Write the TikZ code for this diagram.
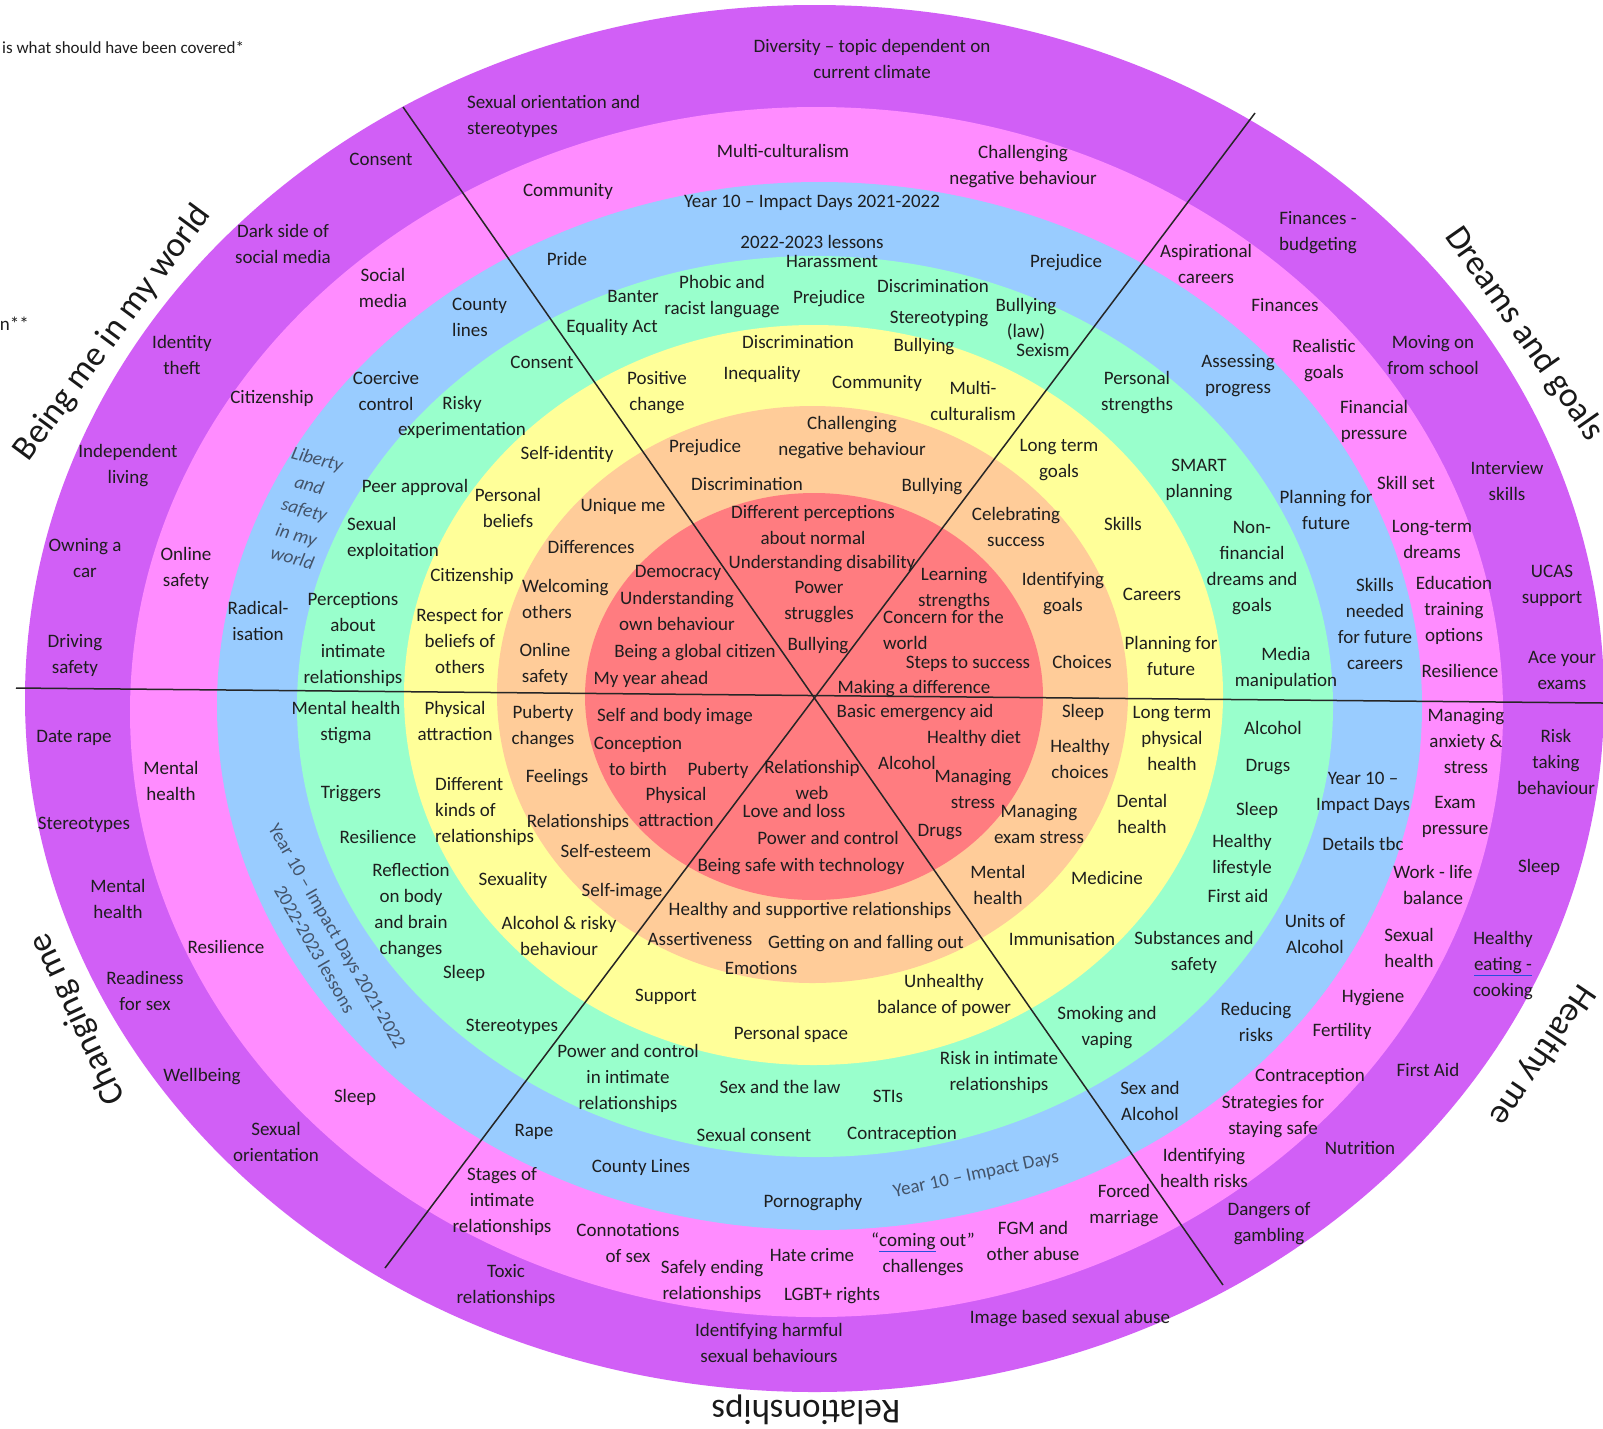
\documentclass[tikz,border=0pt]{standalone}
\usepackage{fontspec}
\setmainfont{Carlito}
\definecolor{bpurple}{RGB}{209,95,246}
\definecolor{bpink}{RGB}{255,140,255}
\definecolor{bblue}{RGB}{153,204,255}
\definecolor{bmint}{RGB}{153,255,204}
\definecolor{byellow}{RGB}{255,255,153}
\definecolor{bpeach}{RGB}{255,204,153}
\definecolor{bred}{RGB}{255,124,128}
\definecolor{txt}{RGB}{30,30,30}
\definecolor{txtblue}{RGB}{68,84,106}
\definecolor{ulblue}{RGB}{40,80,220}
\newcommand{\myul}[1]{{\color{ulblue}\underline{\textcolor{txt}{#1}}}}
\newcommand{\mystrut}{\rule[-4.5pt]{0pt}{19pt}}
\begin{document}
\begin{tikzpicture}[x=1pt,y=-1pt,
  lbl/.style={font=\fontsize{19}{26}\selectfont, align=center, inner sep=0pt, text=txt,
    execute at begin node=\mystrut, execute at end node=\mystrut},
  biglbl/.style={font=\fontsize{35}{40}\selectfont, inner sep=0pt, text=black!90},
  divline/.style={line width=1.5pt, draw=black!85},
  bluetxt/.style={text=txtblue}]
\fill[white] (0,0) rectangle (1603,1428);
\useasboundingbox (0,0) rectangle (1603,1428);
% rings
\fill[bpurple] (814.5,698.5) ellipse [x radius=789.5pt, y radius=693.5pt];
\fill[bpink]   (816.5,712)   ellipse [x radius=686.5pt, y radius=605pt];
\fill[bblue]   (819.5,706)   ellipse [x radius=602.5pt, y radius=524pt];
\fill[bmint]   (815,706.5)   ellipse [x radius=518pt,   y radius=450.5pt];
\fill[byellow] (813.5,695)   ellipse [x radius=409.5pt, y radius=370pt];
\fill[bpeach]  (812.5,694.5) ellipse [x radius=315.5pt, y radius=288.5pt];
\fill[bred]    (814,696.5)   ellipse [x radius=229pt,   y radius=203.5pt];
% dividing lines
\coordinate (hL) at (16,688);
\coordinate (hR) at (1603,703);
\coordinate (aT) at (403,107);
\coordinate (aB) at (1223,1285);
\coordinate (bT) at (1255,113);
\coordinate (bB) at (385,1268);
\draw[divline] (hL) -- (hR);
\draw[divline] (aT) -- (aB);
\draw[divline] (bT) -- (bB);
% notes
\node[lbl, font=\fontsize{17}{20}\selectfont, anchor=west] (note1) at (2,48) {is what should have been covered*};
\node[lbl, anchor=east] (note2) at (29,325) {n**};
% big labels
\node[biglbl, rotate=53.5] (bigA) at (113,333) {Being me in my world};
\node[biglbl, rotate=-55] (bigB) at (1524,334) {Dreams and goals};
\node[biglbl, rotate=115] (bigC) at (78,1019) {Changing me};
\node[biglbl, rotate=-124] (bigD) at (1542,1055) {Healthy me};
\node[biglbl, rotate=180] (bigE) at (806,1410) {Relationships};
% purple band
\node[lbl] (pu1) at (872,61) {Diversity -- topic dependent on\\current climate};
\node[lbl, align=left, anchor=west] (pu2) at (467,117.5) {Sexual orientation and\\stereotypes};
\node[lbl] (pu3) at (381,160) {Consent};
\node[lbl] (pu4) at (283,246.5) {Dark side of\\social media};
\node[lbl] (pu5) at (182,357.5) {Identity\\theft};
\node[lbl] (pu6) at (128,466) {Independent\\living};
\node[lbl] (pu7) at (85,560.5) {Owning a\\car};
\node[lbl] (pu8) at (75,656.5) {Driving\\safety};
\node[lbl] (pu9) at (74,737) {Date rape};
\node[lbl] (pu10) at (84,824) {Stereotypes};
\node[lbl] (pu11) at (118,901) {Mental\\health};
\node[lbl] (pu12) at (145,993) {Readiness\\for sex};
\node[lbl] (pu13) at (202,1076) {Wellbeing};
\node[lbl] (pu14) at (276,1144) {Sexual\\orientation};
\node[lbl] (pu15) at (506,1286) {Toxic\\relationships};
\node[lbl] (pu16) at (769,1345) {Identifying harmful\\sexual behaviours};
\node[lbl] (pu17) at (1070,1318) {Image based sexual abuse};
\node[lbl] (pu18) at (1269,1224) {Dangers of\\gambling};
\node[lbl] (pu19) at (1360,1149) {Nutrition};
\node[lbl] (pu20) at (1428,1071) {First Aid};
\node[lbl] (pu21) at (1503,966) {Healthy\\\myul{eating -}\\cooking};
\node[lbl] (pu22) at (1539,867) {Sleep};
\node[lbl] (pu23) at (1556,764) {Risk\\taking\\behaviour};
\node[lbl] (pu24) at (1562,672.5) {Ace your\\exams};
\node[lbl] (pu25) at (1552,586.5) {UCAS\\support};
\node[lbl] (pu26) at (1507,483.5) {Interview\\skills};
\node[lbl] (pu27) at (1433,357) {Moving on\\from school};
\node[lbl] (pu28) at (1318,233.5) {Finances -\\budgeting};
% pink band
\node[lbl] (pk1) at (783,152) {Multi-culturalism};
\node[lbl] (pk2) at (1023,167.5) {Challenging\\negative behaviour};
\node[lbl] (pk3) at (568,191) {Community};
\node[lbl] (pk4) at (383,290.5) {Social\\media};
\node[lbl] (pk5) at (272,398) {Citizenship};
\node[lbl] (pk6) at (186,569.5) {Online\\safety};
\node[lbl] (pk7) at (171,783) {Mental\\health};
\node[lbl] (pk8) at (226,948) {Resilience};
\node[lbl] (pk9) at (355,1097) {Sleep};
\node[lbl] (pk10) at (502,1202) {Stages of\\intimate\\relationships};
\node[lbl] (pk11) at (628,1245) {Connotations\\of sex};
\node[lbl] (pk12) at (712,1282) {Safely ending\\relationships};
\node[lbl] (pk13) at (812,1256) {Hate crime};
\node[lbl] (pk14) at (832,1295) {LGBT+ rights};
\node[lbl] (pk15) at (923,1254.5) {“\myul{coming} out”\\challenges};
\node[lbl] (pk16) at (1033,1243.5) {FGM and\\other abuse};
\node[lbl] (pk17) at (1124,1206.5) {Forced\\marriage};
\node[lbl] (pk18) at (1204,1170) {Identifying\\health risks};
\node[lbl] (pk19) at (1273,1117.5) {Strategies for\\staying safe};
\node[lbl] (pk20) at (1310,1076) {Contraception};
\node[lbl] (pk21) at (1342,1031) {Fertility};
\node[lbl] (pk22) at (1373,997) {Hygiene};
\node[lbl] (pk23) at (1409,950.5) {Sexual\\health};
\node[lbl] (pk24) at (1433,887.5) {Work - life\\balance};
\node[lbl] (pk25) at (1455,817.5) {Exam\\pressure};
\node[lbl] (pk26) at (1466,743) {Managing\\anxiety \&\\stress};
\node[lbl] (pk27) at (1460,672) {Resilience};
\node[lbl] (pk28) at (1454,611.5) {Education\\training\\options};
\node[lbl] (pk29) at (1432,541.5) {Long-term\\dreams};
\node[lbl] (pk30) at (1406,484) {Skill set};
\node[lbl] (pk31) at (1374,422) {Financial\\pressure};
\node[lbl] (pk32) at (1324,361) {Realistic\\goals};
\node[lbl] (pk33) at (1285,306) {Finances};
\node[lbl] (pk34) at (1206,266.5) {Aspirational\\careers};
% blue band
\node[lbl] (bl1) at (812,202) {Year 10 -- Impact Days 2021-2022};
\node[lbl] (bl2) at (812,243) {2022-2023 lessons};
\node[lbl] (bl3) at (567,260) {Pride};
\node[lbl] (bl4) at (1066,262) {Prejudice};
\node[lbl, align=left, anchor=west] (bl5) at (452,320) {County\\lines};
\node[lbl] (bl6) at (386,393.5) {Coercive\\control};
\node[lbl, bluetxt, font=\fontsize{19}{26}\selectfont\itshape, rotate=-15] (bl7a) at (317,460) {Liberty};
\node[lbl, bluetxt, font=\fontsize{19}{26}\selectfont\itshape, rotate=-15] (bl7b) at (309,486) {and};
\node[lbl, bluetxt, font=\fontsize{19}{26}\selectfont\itshape, rotate=-15] (bl7c) at (304,511) {safety};
\node[lbl, bluetxt, font=\fontsize{19}{26}\selectfont\itshape, rotate=-15] (bl7d) at (296,536) {in my};
\node[lbl, bluetxt, font=\fontsize{19}{26}\selectfont\itshape, rotate=-15] (bl7e) at (292,559) {world};
\node[lbl] (bl8) at (258,623.5) {Radical-\\isation};
\node[lbl, bluetxt, rotate=-60] (bl9) at (324,944) {Year 10 -- Impact Days 2021-2022\\2022-2023 lessons};
\node[lbl] (bl10) at (534,1131) {Rape};
\node[lbl] (bl11) at (641,1167) {County Lines};
\node[lbl] (bl12) at (813,1202) {Pornography};
\node[lbl, bluetxt, rotate=12] (bl13) at (976,1175) {Year 10 -- Impact Days};
\node[lbl] (bl14) at (1150,1103) {Sex and\\Alcohol};
\node[lbl] (bl15) at (1256,1024) {Reducing\\risks};
\node[lbl] (bl16) at (1315,936.5) {Units of\\Alcohol};
\node[lbl] (bl17) at (1363,845) {Details tbc};
\node[lbl] (bl18) at (1363,794) {Year 10 --\\Impact Days};
\node[lbl] (bl19) at (1375,626) {Skills\\needed\\for future\\careers};
\node[lbl] (bl20) at (1326,512.5) {Planning for\\future};
\node[lbl] (bl21) at (1238,376.5) {Assessing\\progress};
% mint band
\node[lbl] (mi1) at (832,262) {Harassment};
\node[lbl] (mi2) at (633,297) {Banter};
\node[lbl] (mi3) at (722,297.5) {Phobic and\\racist language};
\node[lbl] (mi4) at (829,298) {Prejudice};
\node[lbl] (mi5) at (933,287) {Discrimination};
\node[lbl] (mi6) at (939,318) {Stereotyping};
\node[lbl] (mi7) at (1026,320) {Bullying\\(law)};
\node[lbl] (mi8) at (1043,351) {Sexism};
\node[lbl] (mi9) at (612,327) {Equality Act};
\node[lbl] (mi10) at (542,363) {Consent};
\node[lbl] (mi11) at (462,418) {Risky\\experimentation};
\node[lbl] (mi12) at (1137,393.5) {Personal\\strengths};
\node[lbl] (mi13) at (1199,480.5) {SMART\\planning};
\node[lbl] (mi14) at (415,487) {Peer approval};
\node[lbl, align=left, anchor=west] (mi15) at (347,539) {Sexual\\exploitation};
\node[lbl] (mi16) at (1252,568.5) {Non-\\financial\\dreams and\\goals};
\node[lbl] (mi17) at (353,640.5) {Perceptions\\about\\intimate\\relationships};
\node[lbl] (mi18) at (1286,669) {Media\\manipulation};
\node[lbl] (mi19) at (346,723.5) {Mental health\\stigma};
\node[lbl] (mi20) at (1273,729) {Alcohol};
\node[lbl] (mi21) at (1268,766) {Drugs};
\node[lbl] (mi22) at (351,793) {Triggers};
\node[lbl] (mi23) at (1257,810) {Sleep};
\node[lbl] (mi24) at (378,838) {Resilience};
\node[lbl] (mi25) at (1242,856) {Healthy\\lifestyle};
\node[lbl] (mi26) at (1238,897) {First aid};
\node[lbl] (mi27) at (411,911) {Reflection\\on body\\and brain\\changes};
\node[lbl] (mi28) at (1194,953.5) {Substances and\\safety};
\node[lbl] (mi29) at (464,973) {Sleep};
\node[lbl] (mi30) at (512,1026) {Stereotypes};
\node[lbl] (mi31) at (1107,1028.5) {Smoking and\\vaping};
\node[lbl] (mi32) at (628,1079) {Power and control\\in intimate\\relationships};
\node[lbl] (mi33) at (999,1073.5) {Risk in intimate\\relationships};
\node[lbl] (mi34) at (780,1088) {Sex and the law};
\node[lbl] (mi35) at (888,1097) {STIs};
\node[lbl] (mi36) at (754,1136) {Sexual consent};
\node[lbl] (mi37) at (902,1134) {Contraception};
% yellow band
\node[lbl] (ye1) at (798,343) {Discrimination};
\node[lbl] (ye2) at (657,393.5) {Positive\\change};
\node[lbl] (ye3) at (762,374) {Inequality};
\node[lbl] (ye4) at (924,346) {Bullying};
\node[lbl] (ye5) at (877,383) {Community};
\node[lbl] (ye6) at (973,403) {Multi-\\culturalism};
\node[lbl] (ye7) at (567,454) {Self-identity};
\node[lbl] (ye8) at (1059,460.5) {Long term\\goals};
\node[lbl] (ye9) at (508,510) {Personal\\beliefs};
\node[lbl] (ye10) at (1123,525) {Skills};
\node[lbl] (ye11) at (472,576) {Citizenship};
\node[lbl] (ye12) at (1152,595) {Careers};
\node[lbl] (ye13) at (460,643) {Respect for\\beliefs of\\others};
\node[lbl] (ye14) at (1171,658.5) {Planning for\\future};
\node[lbl] (ye15) at (455,723.5) {Physical\\attraction};
\node[lbl] (ye16) at (1172,741) {Long term\\physical\\health};
\node[lbl, align=left, anchor=west] (ye17) at (435,812.5) {Different\\kinds of\\relationships};
\node[lbl] (ye18) at (1142,816) {Dental\\health};
\node[lbl] (ye19) at (513,880) {Sexuality};
\node[lbl] (ye20) at (1107,879) {Medicine};
\node[lbl] (ye21) at (559,938.5) {Alcohol \& risky\\behaviour};
\node[lbl] (ye22) at (1062,940) {Immunisation};
\node[lbl] (ye23) at (666,996) {Support};
\node[lbl] (ye24) at (944,996.5) {Unhealthy\\balance of power};
\node[lbl] (ye25) at (791,1034) {Personal space};
% peach band
\node[lbl] (pe1) at (852,438) {Challenging\\negative behaviour};
\node[lbl] (pe2) at (705,447) {Prejudice};
\node[lbl] (pe3) at (747,485) {Discrimination};
\node[lbl] (pe4) at (932,486) {Bullying};
\node[lbl] (pe5) at (623,506) {Unique me};
\node[lbl] (pe6) at (1016,529.5) {Celebrating\\success};
\node[lbl] (pe7) at (591,548) {Differences};
\node[lbl, align=left, anchor=west] (pe8) at (522,601) {Welcoming\\others};
\node[lbl] (pe9) at (1063,594) {Identifying\\goals};
\node[lbl] (pe10) at (545,665.5) {Online\\safety};
\node[lbl] (pe11) at (1082,663) {Choices};
\node[lbl] (pe12) at (543,727) {Puberty\\changes};
\node[lbl] (pe13) at (1083,712) {Sleep};
\node[lbl] (pe14) at (1080,761) {Healthy\\choices};
\node[lbl] (pe15) at (557,777) {Feelings};
\node[lbl] (pe16) at (578,822) {Relationships};
\node[lbl] (pe17) at (1039,826) {Managing\\exam stress};
\node[lbl] (pe18) at (606,852) {Self-esteem};
\node[lbl] (pe19) at (998,887.5) {Mental\\health};
\node[lbl] (pe20) at (622,891) {Self-image};
\node[lbl] (pe21) at (810,910) {Healthy and supportive relationships};
\node[lbl] (pe22) at (700,940) {Assertiveness};
\node[lbl] (pe23) at (866,943) {Getting on and falling out};
\node[lbl] (pe24) at (761,969) {Emotions};
% red centre
\node[lbl] (re1) at (813,527.5) {Different perceptions\\about normal};
\node[lbl] (re2) at (822,563) {Understanding disability};
\node[lbl] (re3) at (678,572) {Democracy};
\node[lbl] (re4) at (954,589) {Learning\\strengths};
\node[lbl] (re5) at (819,602.5) {Power\\struggles};
\node[lbl] (re6) at (677,613) {Understanding\\own behaviour};
\node[lbl, align=left, anchor=west] (re7) at (883,632) {Concern for the\\world};
\node[lbl] (re8) at (818,645) {Bullying};
\node[lbl] (re9) at (695,652) {Being a global citizen};
\node[lbl] (re10) at (968,663) {Steps to success};
\node[lbl] (re11) at (651,679) {My year ahead};
\node[lbl] (re12) at (914,688) {Making a difference};
\node[lbl] (re13) at (915,712) {Basic emergency aid};
\node[lbl] (re14) at (675,716) {Self and body image};
\node[lbl] (re15) at (974,738) {Healthy diet};
\node[lbl] (re16) at (638,758.5) {Conception\\to birth};
\node[lbl] (re17) at (907,764) {Alcohol};
\node[lbl] (re18) at (718,770) {Puberty};
\node[lbl] (re19) at (812,782.5) {Relationship\\web};
\node[lbl] (re20) at (973,791.5) {Managing\\stress};
\node[lbl] (re21) at (676,809) {Physical\\attraction};
\node[lbl] (re22) at (794,812) {Love and loss};
\node[lbl] (re23) at (940,831) {Drugs};
\node[lbl] (re24) at (828,839) {Power and control};
\node[lbl] (re25) at (801,866) {Being safe with technology};
\end{tikzpicture}
\end{document}
